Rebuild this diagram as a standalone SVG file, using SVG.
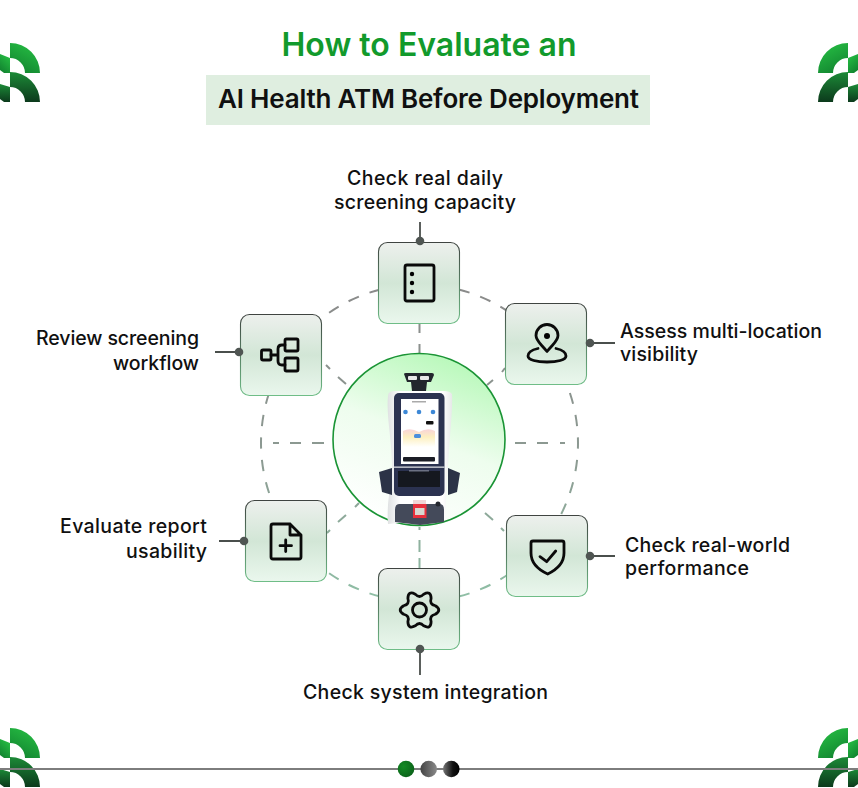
<svg xmlns="http://www.w3.org/2000/svg" width="858" height="788" viewBox="0 0 858 788">
<style>
text{font-family:"Inter","Liberation Sans",sans-serif;fill:#101010}
.lab{font-size:19.500px;font-weight:500}
.card{fill:url(#cardFill);stroke:url(#cardStroke);stroke-width:1.100}
.ic{fill:none;stroke:#0a0a0a;stroke-width:2.800;stroke-linecap:round;stroke-linejoin:round}
.lead{stroke:#4a4f4c;stroke-width:1.800;fill:none}
.pin{fill:#4f5552}
.sp{stroke-width:2;fill:none}
.g1{fill:url(#lg1)}.g2{fill:url(#lg2)}
</style>
<defs>
<linearGradient id="cardFill" x1="0" y1="0" x2="0" y2="1"><stop offset="0" stop-color="#edf0ed"/><stop offset=".5" stop-color="#d2e6d6"/><stop offset="1" stop-color="#eaf7ed"/></linearGradient>
<linearGradient id="cardStroke" x1="0" y1="0" x2="0" y2="1"><stop offset="0" stop-color="#3f4441"/><stop offset="1" stop-color="#6fbd87"/></linearGradient>
<linearGradient id="ringG" gradientUnits="userSpaceOnUse" x1="0" y1="284" x2="0" y2="602"><stop offset="0" stop-color="#8a8a8a"/><stop offset=".55" stop-color="#8c9a92"/><stop offset="1" stop-color="#8fc0a6"/></linearGradient>
<linearGradient id="disc" x1=".75" y1="0" x2=".35" y2="1"><stop offset="0" stop-color="#b4f8b6"/><stop offset=".5" stop-color="#eefdee"/><stop offset="1" stop-color="#ffffff"/></linearGradient>
<linearGradient id="lg1" x1=".8" y1="0" x2=".3" y2="1"><stop offset="0" stop-color="#27c044"/><stop offset="1" stop-color="#128430"/></linearGradient>
<linearGradient id="lg2" x1=".5" y1="0" x2=".5" y2="1"><stop offset="0" stop-color="#1c8a37"/><stop offset="1" stop-color="#0c3a1c"/></linearGradient>
<radialGradient id="d1" cx=".35" cy=".35" r=".8"><stop offset="0" stop-color="#138a24"/><stop offset="1" stop-color="#0a5d18"/></radialGradient>
<linearGradient id="d2" x1="0" y1="0" x2="1" y2="0"><stop offset="0" stop-color="#444"/><stop offset="1" stop-color="#8a8a8a"/></linearGradient>
<linearGradient id="d3" x1="0" y1="0" x2="1" y2="0"><stop offset="0" stop-color="#777"/><stop offset=".6" stop-color="#111"/><stop offset="1" stop-color="#000"/></linearGradient>
<linearGradient id="pastel" x1="0" y1="0" x2="0" y2="1"><stop offset="0" stop-color="#f9d4d8"/><stop offset=".45" stop-color="#fdf0c0"/><stop offset="1" stop-color="#ffffff"/></linearGradient>
<linearGradient id="body" x1="0" y1="0" x2="1" y2="0"><stop offset="0" stop-color="#dfe1e2"/><stop offset=".2" stop-color="#ffffff"/><stop offset=".85" stop-color="#ffffff"/><stop offset="1" stop-color="#e6e8e8"/></linearGradient>
<g id="logo">
<path class="g1" d="M10 43A30 30 0 0 1 40 73H25A15 15 0 0 0 10 58Z"/>
<path class="g2" d="M10 72A30 30 0 0 1 40 102H25A15 15 0 0 0 10 87Z"/>
<path class="g1" d="M0 54L10 58V73H4L0 70Z"/>
<path class="g2" d="M0 84L10 87V102H4L0 99Z"/>
</g>
</defs>
<rect width="858" height="788" fill="#fff"/>
<g id="decor">
<use href="#logo"/>
<use href="#logo" transform="matrix(-1 0 0 1 858 0)"/>
<use href="#logo" transform="translate(0 685)"/>
<use href="#logo" transform="matrix(-1 0 0 1 858 685)"/>
<path d="M0 769H858" stroke="#7d7d7d" stroke-width="2"/>
<circle cx="406" cy="769" r="8.300" fill="url(#d1)"/>
<circle cx="428.700" cy="769" r="8.300" fill="url(#d2)"/>
<circle cx="451.300" cy="769" r="8.300" fill="url(#d3)"/>
</g>
<g id="title">
<text x="429" y="55.500" text-anchor="middle" font-size="32" font-weight="600" style="fill:#129a2c" textLength="295">How to Evaluate an</text>
<rect x="206" y="75" width="444" height="50" fill="#dfeee0"/>
<text x="428.500" y="108" text-anchor="middle" font-size="26" font-weight="600" textLength="421">AI Health ATM Before Deployment</text>
</g>
<g id="connectors">
<circle cx="419.500" cy="443" r="158.500" fill="none" stroke="url(#ringG)" stroke-width="2" pathLength="88" stroke-dasharray="1 1" stroke-dashoffset=".5"/>
<path class="sp" stroke="url(#ringG)" d="M273 443H279M290 443H301M312 443H324M515 443H526M537 443H548M560 443H565M419.500 323V333M419.500 344V354M419.500 527V530M419.500 540V552M419.500 558V568M326 365L330 369M338 377L346 384M487 385L493 380M502 372L505 368M355 507L359 503M338 522L346 515M327 533L330 530M485 513L493 520M501 528L504 531"/>
<path class="lead" d="M420 222V241M590 343H615M215 352H239M219 541H244M420 649V675M590 556H615"/>
</g>
<g id="hub">
<circle cx="419" cy="439.500" r="86" fill="url(#disc)" stroke="#1a9435" stroke-width="1.600"/>
<path d="M390 392Q392 391 396 391H444Q450 391 452 394C453 412 449 440 448 468L445 518L388 524C386 500 393 480 392 467C392 440 386 415 388 396Q388 393 390 392Z" fill="url(#body)"/>
<path d="M404 374Q404 373 406 373H432Q434 373 434 375L431 382H427L426 391H412L411 382H407Z" fill="#22262d"/>
<rect x="408" y="376" width="9" height="4" rx="1" fill="#e8e8e8"/><rect x="420" y="376" width="9" height="4" rx="1" fill="#e8e8e8"/>
<path d="M379 472L392 468V495L382 492ZM448 468L460 473L457 492L448 495Z" fill="#2c3347"/>
<rect x="394" y="393" width="50.500" height="103" rx="5" fill="#2b3250"/>
<rect x="394" y="466.500" width="50.500" height="1.300" fill="#d9dbe0"/>
<rect x="398" y="471" width="42" height="16" fill="#15181f"/>
<rect x="409" y="470" width="20" height="1.500" fill="#6c7183"/>
<rect x="401" y="399" width="37.500" height="65" fill="#fff"/>
<path d="M403 431Q410 427 419 432Q428 427 435 431V447H403Z" fill="url(#pastel)"/>
<rect x="412" y="401" width="14" height="1.500" fill="#aaa"/>
<circle cx="405.500" cy="412" r="2.300" fill="#3d88d6"/><circle cx="419" cy="412" r="2.300" fill="#3d88d6"/><circle cx="433" cy="412" r="2.300" fill="#3d88d6"/>
<rect x="426" y="421" width="7.500" height="3.500" rx="1" fill="#111"/>
<rect x="414" y="434" width="7" height="4" rx="1.500" fill="#4b8fdd"/>
<rect x="403" y="457" width="32" height="4.500" rx="1" fill="#1b1d25"/>
<path d="M395 510Q395 504 399 504H440Q444 504 444 510V522L420 525L395 522Z" fill="#444a5a"/>
<rect x="413" y="500" width="13" height="5" fill="#f0d6d6"/>
<rect x="413" y="504" width="13.500" height="14" fill="#e8303c"/>
<rect x="415" y="508" width="9.500" height="7" fill="#d8d8d0"/>
<circle cx="438" cy="504" r="2.500" fill="#23262e"/>
</g>
<g id="node-capacity">
<rect class="card" x="378.500" y="242.500" width="81" height="81" rx="9"/>
<rect class="ic" x="405" y="265" width="29" height="36" rx="2"/>
<circle cx="412" cy="274" r="2.200"/><circle cx="412" cy="283" r="2.200"/><circle cx="412" cy="292" r="2.200"/>
<circle class="pin" cx="420" cy="241" r="4.300"/>
<text class="lab" x="425" y="185" text-anchor="middle" textLength="156">Check real daily</text>
<text class="lab" x="425" y="209" text-anchor="middle" textLength="182">screening capacity</text>
</g>
<g id="node-location">
<rect class="card" x="505.500" y="303.500" width="81" height="81" rx="9"/>
<path class="ic" d="M547 351.500C541 344 536 341 536 335.500A11 11 0 0 1 558 335.500C558 341 553 344 547 351.500Z"/>
<circle cx="547" cy="336" r="3"/>
<path class="ic" d="M538 348.500C531 350 528 353 528 356C528 360 537 362 547 362C557 362 566 360 566 356C566 353 563 350 556 348.500"/>
<circle class="pin" cx="590" cy="343" r="4.300"/>
<text class="lab" x="620" y="338" textLength="202">Assess multi-location</text>
<text class="lab" x="620" y="361" textLength="78">visibility</text>
</g>
<g id="node-workflow">
<rect class="card" x="240.500" y="314.500" width="81" height="81" rx="9"/>
<rect class="ic" x="261.500" y="350" width="9.500" height="10" rx="1.500"/>
<rect class="ic" x="285" y="339" width="13" height="12" rx="1.500"/>
<rect class="ic" x="285" y="358" width="13" height="13" rx="1.500"/>
<path class="ic" d="M271 355H278M285 345H282Q278 345 278 349V361Q278 365 282 365H285"/>
<circle class="pin" cx="239" cy="352" r="4.300"/>
<text class="lab" x="199" y="345" text-anchor="end" textLength="163">Review screening</text>
<text class="lab" x="199" y="370" text-anchor="end" textLength="86">workflow</text>
</g>
<g id="node-report">
<rect class="card" x="245.500" y="500.500" width="81" height="81" rx="9"/>
<path class="ic" d="M273 524H290L301 535V557Q301 559 299 559H273Q271 559 271 557V526Q271 524 273 524ZM290 524V535H301M285.700 540V551.500M280 545.700H291.500"/>
<circle class="pin" cx="244" cy="541" r="4.300"/>
<text class="lab" x="207" y="533" text-anchor="end" textLength="147">Evaluate report</text>
<text class="lab" x="207" y="558" text-anchor="end" textLength="81">usability</text>
</g>
<g id="node-integration">
<rect class="card" x="378.500" y="568.500" width="81" height="81" rx="9"/>
<path class="ic" d="M435.340 605.750Q442.260 610 435.340 614.250Q429.160 615.580 431.100 621.600Q430.880 629.710 423.750 625.840Q419.500 621.160 415.250 625.840Q408.120 629.710 407.900 621.600Q409.840 615.580 403.660 614.250Q396.740 610 403.660 605.750Q409.840 604.420 407.900 598.400Q408.120 590.290 415.250 594.160Q419.500 598.840 423.750 594.160Q430.880 590.290 431.100 598.400Q429.160 604.420 435.340 605.750Z"/>
<circle class="ic" cx="419.500" cy="610" r="7"/>
<circle class="pin" cx="420" cy="649" r="4.300"/>
<text class="lab" x="425.500" y="699" text-anchor="middle" textLength="245">Check system integration</text>
</g>
<g id="node-performance">
<rect class="card" x="506.500" y="515.500" width="81" height="81" rx="9"/>
<path class="ic" d="M533 541H562Q564 541 564 543V553C564 563 556 570 547.700 574C539 570 531 563 531 553V543Q531 541 533 541Z"/>
<path class="ic" d="M540 556.700L546.700 561.700L555.700 551"/>
<circle class="pin" cx="590" cy="556" r="4.300"/>
<text class="lab" x="625" y="552" textLength="165">Check real-world</text>
<text class="lab" x="625" y="575" textLength="124">performance</text>
</g>
</svg>
